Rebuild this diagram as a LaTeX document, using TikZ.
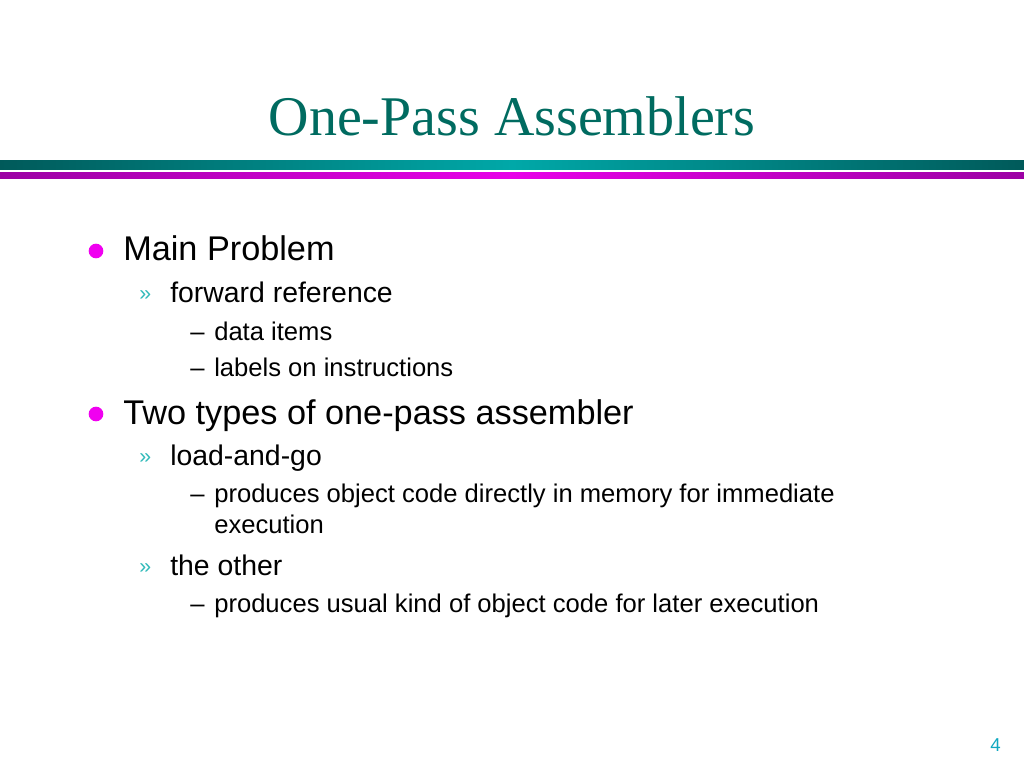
\documentclass[tikz,border=0pt]{standalone}
\usepackage{fontspec}
\setmainfont{Liberation Serif}
\newfontfamily\slidesans{Liberation Sans}
\definecolor{titleteal}{HTML}{006B60}
\definecolor{barteal}{HTML}{00A8A8}
\definecolor{bartealdark}{HTML}{005A5A}
\definecolor{barpink}{HTML}{E800E8}
\definecolor{barpinkdark}{HTML}{9C00A4}
\definecolor{dotpink}{HTML}{F000F0}
\definecolor{chevcyan}{HTML}{33BBBB}
\definecolor{numcyan}{HTML}{10A8C0}

\begin{document}
\begin{tikzpicture}[x=0.75pt,y=-0.75pt]
\tikzstyle{every node}=[inner sep=0pt,anchor=base west];
\tikzstyle{lvlone}=[font=\slidesans\fontsize{25.7}{30}\selectfont];
\tikzstyle{lvltwo}=[font=\slidesans\fontsize{21.3}{25}\selectfont];
\tikzstyle{lvlthree}=[font=\slidesans\fontsize{19.2}{22}\selectfont];
\tikzstyle{dot}=[anchor=center,circle,fill=dotpink,minimum size=11pt];
\tikzstyle{chevron}=[text=chevcyan,font=\slidesans\fontsize{16}{18}\selectfont];
\useasboundingbox (0,0) rectangle (1024,768);
\fill[white] (0,0) rectangle (1024,768);
% title and bars
\node[anchor=base,text=titleteal,font=\fontsize{42}{50}\selectfont] (title) at (512,135) {One-Pass Assemblers};
\shade[left color=bartealdark,right color=bartealdark,middle color=barteal] (0,160) rectangle (1024,169);
\shade[left color=barpinkdark,right color=barpinkdark,middle color=barpink] (0,172) rectangle (1024,178);
% first bullet
\node[dot] (b1) at (96,251) {};
\node[lvlone] (main) at (123,260) {Main Problem};
\node[chevron] (c1) at (139,300) {»};
\node[lvltwo] (fwd) at (170,302) {forward reference};
\node[lvlthree] (d1) at (190,340) {–};
\node[lvlthree] (data) at (214,340) {data items};
\node[lvlthree] (d2) at (190,376) {–};
\node[lvlthree] (labels) at (214,376) {labels on instructions};
% second bullet
\node[dot] (b2) at (96,414) {};
\node[lvlone] (two) at (123,424) {Two types of one-pass assembler};
\node[chevron] (c2) at (139,463) {»};
\node[lvltwo] (load) at (170,465) {load-and-go};
\node[lvlthree] (d3) at (190,502) {–};
\node[lvlthree] (direct) at (214,502) {produces object code directly in memory for immediate};
\node[lvlthree] (exec) at (214,533) {execution};
\node[chevron] (c3) at (139,573) {»};
\node[lvltwo] (other) at (170,575) {the other};
\node[lvlthree] (d4) at (190,612) {–};
\node[lvlthree] (usual) at (214,612) {produces usual kind of object code for later execution};
% page number
\node[text=numcyan,font=\slidesans\fontsize{14}{16}\selectfont] (num) at (990,751) {4};
\end{tikzpicture}
\end{document}
